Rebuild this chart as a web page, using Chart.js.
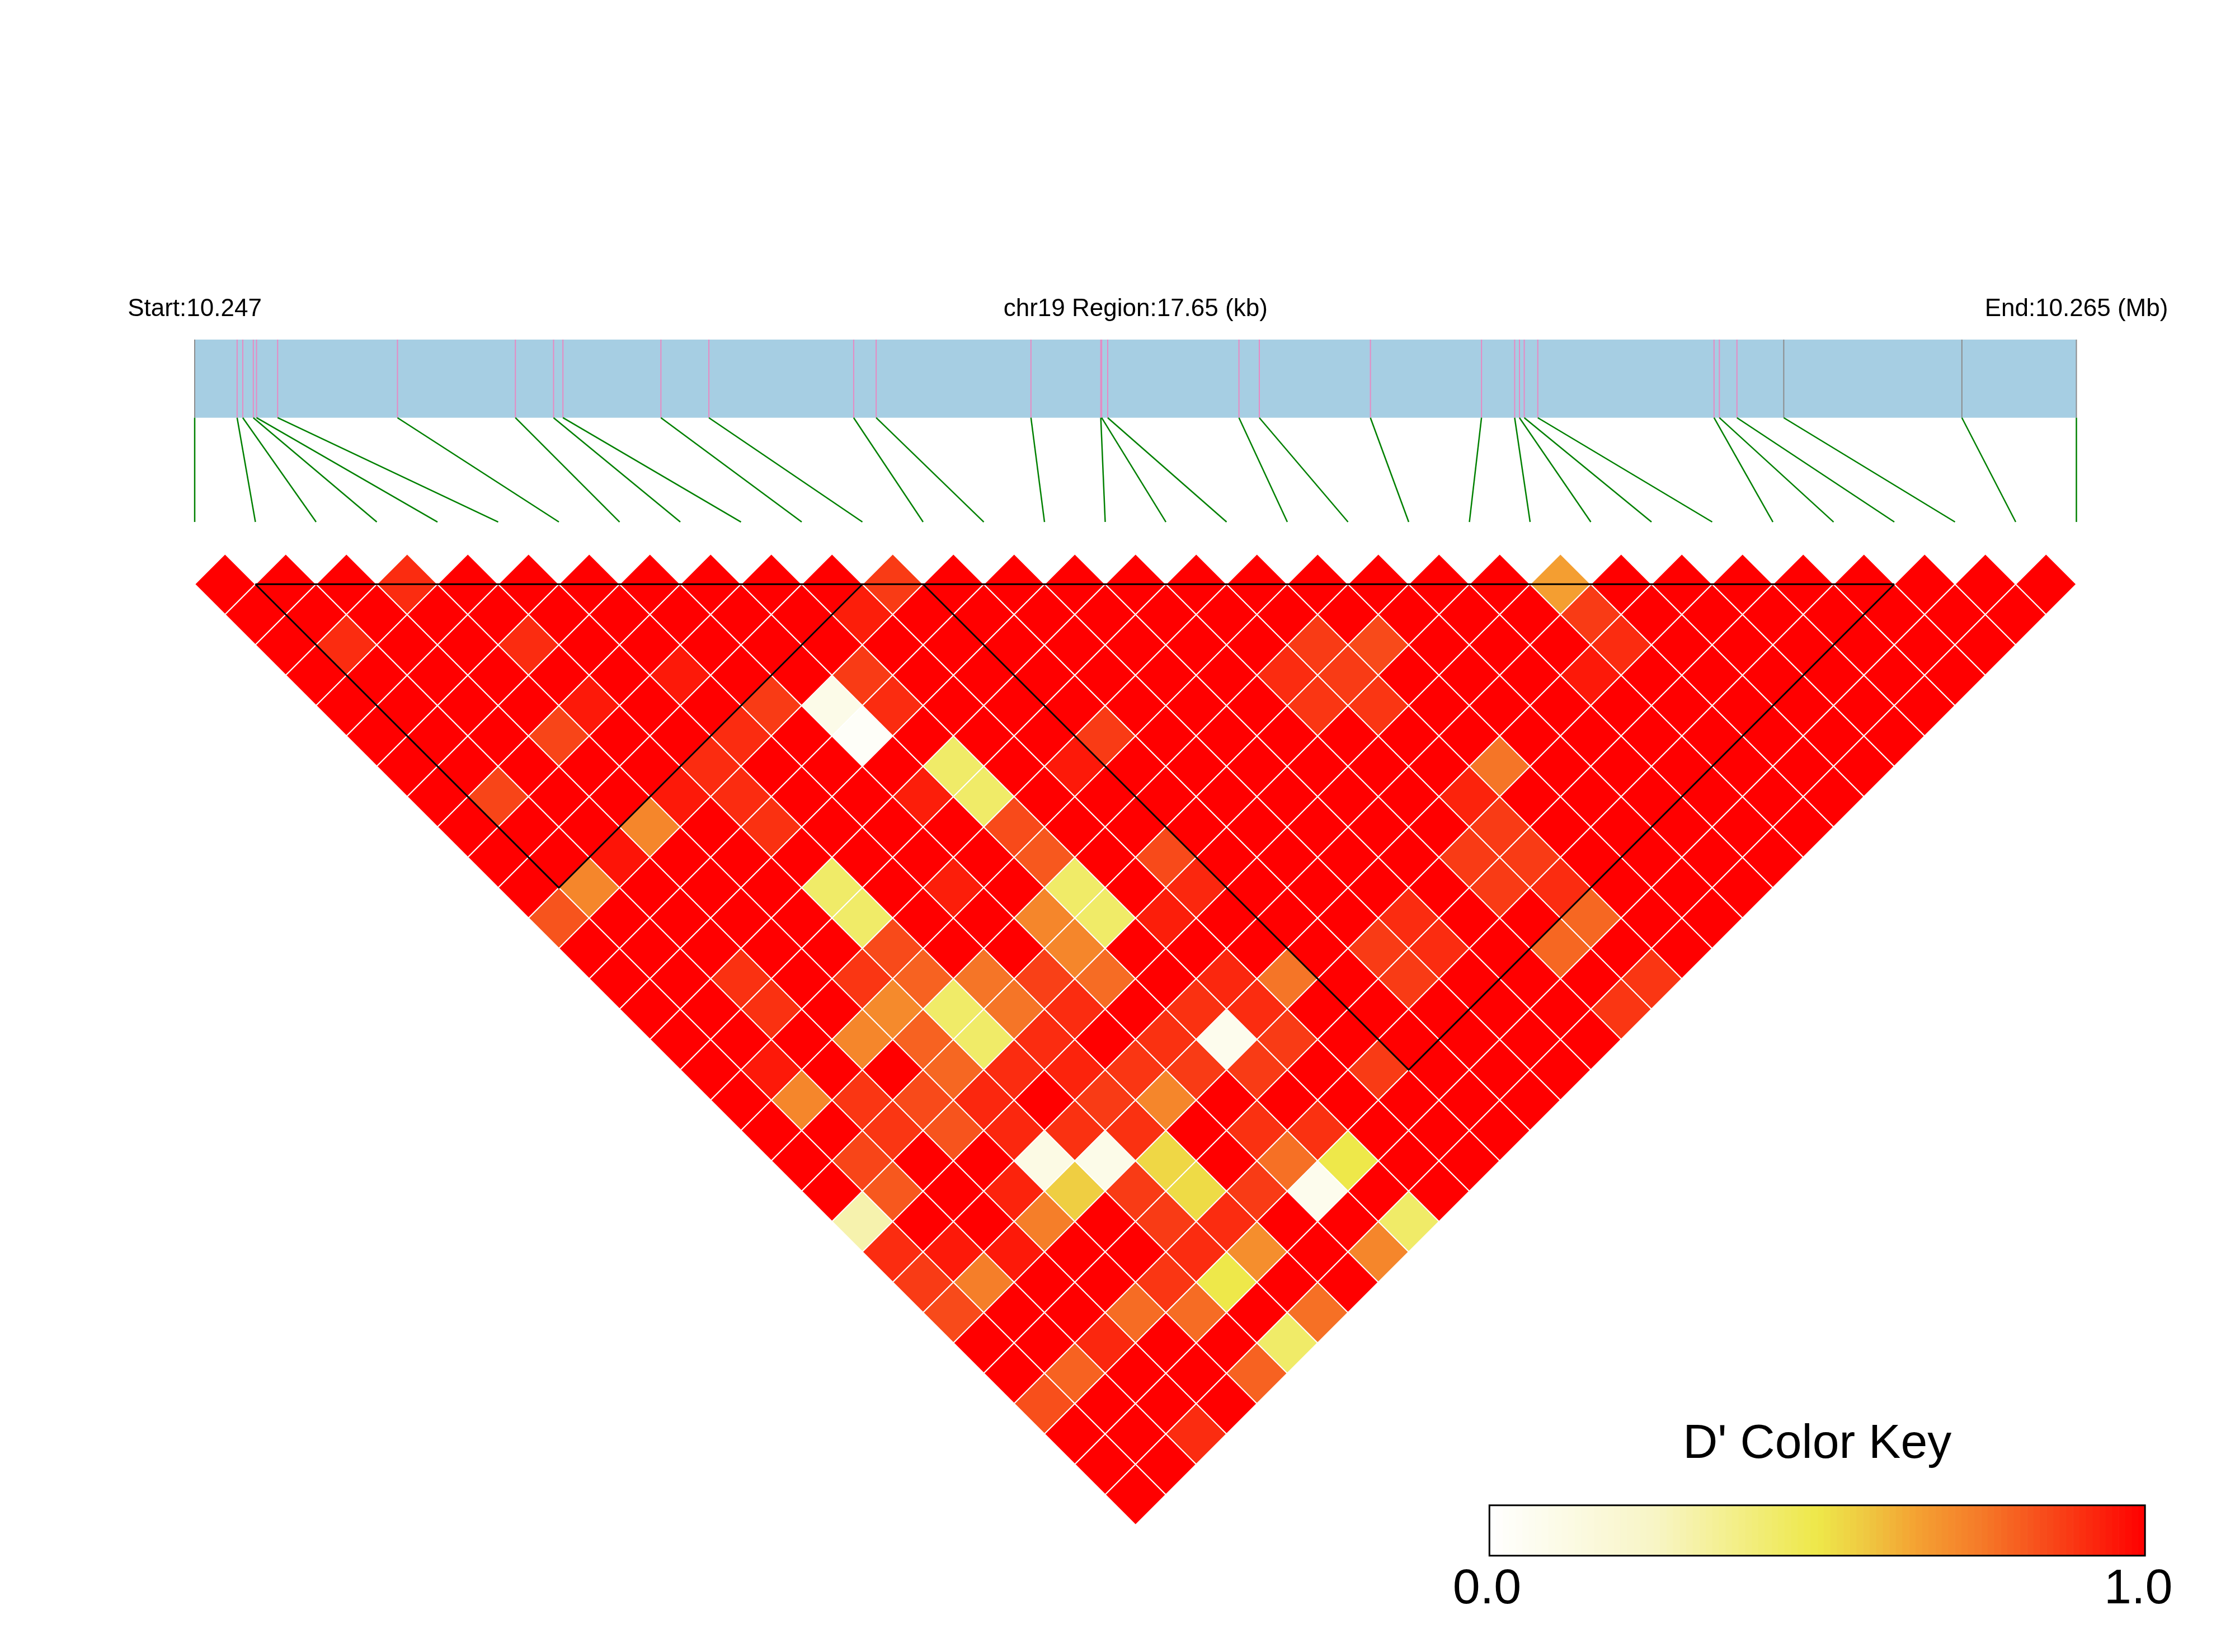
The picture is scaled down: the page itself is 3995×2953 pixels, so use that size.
<!DOCTYPE html>
<html>
<head>
<meta charset="utf-8">
<title>LD heatmap chr19</title>
<script src="https://cdn.jsdelivr.net/npm/chart.js@4.4.1/dist/chart.umd.min.js"></script>
<style>
  html, body { margin: 0; padding: 0; background: #ffffff; }
  #ldChart { display: block; }
</style>
</head>
<body>
<canvas id="ldChart" width="3995" height="2953"></canvas>
<script>
const _ = null;

// region
const chrom = 'chr19';
const startMb = 10.247;
const endMb = 10.265;
const regionKb = 17.65;

// SNP positions, kb from region start
const snpPosKb = [
  0.000, 0.398, 0.451, 0.550, 0.580, 0.778, 1.902, 3.008,
  3.366, 3.454, 4.373, 4.823, 6.181, 6.392, 7.844, 8.499,
  8.507, 8.564, 9.795, 9.986, 11.028, 12.070, 12.381, 12.426,
  12.471, 12.598, 14.251, 14.301, 14.466, 14.905, 16.576, 17.650
];
const greyTicks = [0, 29, 30, 31];

// LD blocks (first SNP, last SNP)
const ldBlocks = [[1, 11], [12, 28]];

// colour key
const keyTicks = ['0.0', '1.0'];
const keyStops = [
  [0.00, '#FFFFFF'],
  [0.25, '#F8F5C6'],
  [0.50, '#EEE84A'],
  [0.58, '#EFC640'],
  [0.65, '#F4A232'],
  [0.75, '#F57A28'],
  [0.85, '#F84A1A'],
  [1.00, '#FF0000']
];

// pairwise D' (row i = first SNP, column j = second SNP)
const dPrime = [
  [_,1,1,1,1,1,1,1, 1,1,1,1,.83,1,1,1, 1,1,1,1,1,1,.30,.91, .88,.85,1,1,.84,1,1,1],
  [_,_,1,1,.91,1,1,1, 1,.86,1,1,.72,1,1,1, 1,1,.95,.72,1,.86,.82,1, .95,.74,1,1,.80,1,1,1],
  [_,_,_,1,1,1,1,1, 1,1,1,1,.96,1,1,1, .90,.90,1,1,.89,.89,1,1, 1,.95,1,1,.92,1,1,.91],
  [_,_,_,_,.91,1,1,1, 1,.86,1,1,.72,1,1,1, 1,1,1,.72,1,.85,.83,1, .93,.74,1,1,.78,1,1,1],
  [_,_,_,_,_,1,1,.91, 1,.95,1,1,.95,1,1,1, 1,1,.89,.71,.80,.79,.92,.92, .12,.56,1,1,.89,.78,1,.80],
  [_,_,_,_,_,_,1,1, 1,1,1,1,.91,.91,.90,1, .44,.44,.85,.80,.44,.44,.91,1, .90,.10,.88,.88,.91,.50,1,.44],
  [_,_,_,_,_,_,_,1, 1,1,.95,1,.91,1,1,1, 1,1,1,1,.76,.76,.91,.93, .88,.90,.54,.53,.91,.70,1,.77],
  [_,_,_,_,_,_,_,_, 1,1,1,1,.88,1,1,1, 1,1,.94,1,1,.87,.91,1, .89,.72,1,1,.88,1,1,1],
  [_,_,_,_,_,_,_,_, _,1,1,1,1,.10,.03,1, .94,1,1,1,.72,.72,.78,1, .90,.88,1,.90,.77,.08,1,.72],
  [_,_,_,_,_,_,_,_, _,_,1,1,1,.88,.91,1, .44,.44,.85,.82,.44,.44,1,1, .90,.08,.88,1,.90,.50,1,.44],
  [_,_,_,_,_,_,_,_, _,_,_,1,.94,1,1,1, 1,1,1,1,1,1,.94,1, .92,.91,.88,1,1,1,1,1],
  [_,_,_,_,_,_,_,_, _,_,_,_,.88,1,1,1, 1,1,.95,1,1,.85,.92,1, 1,.76,1,1,.88,1,1,1],
  [_,_,_,_,_,_,_,_, _,_,_,_,_,1,1,1, 1,1,.88,1,1,1,1,1, 1,1,1,1,1,1,1,1],
  [_,_,_,_,_,_,_,_, _,_,_,_,_,_,1,1, 1,1,1,1,1,1,1,1, 1,1,.88,.88,1,1,1,1],
  [_,_,_,_,_,_,_,_, _,_,_,_,_,_,_,1, 1,1,1,1,1,1,1,1, 1,1,.91,.91,1,1,1,1],
  [_,_,_,_,_,_,_,_, _,_,_,_,_,_,_,_, 1,1,1,1,1,1,1,1, 1,1,1,1,1,1,1,1],
  [_,_,_,_,_,_,_,_, _,_,_,_,_,_,_,_, _,1,1,1,.91,.89,1,1, 1,1,.88,.88,1,.79,1,.89],
  [_,_,_,_,_,_,_,_, _,_,_,_,_,_,_,_, _,_,1,1,.88,.88,.89,1, 1,.93,.88,.88,.91,.79,1,.89],
  [_,_,_,_,_,_,_,_, _,_,_,_,_,_,_,_, _,_,_,1,1,.85,1,1, 1,.76,1,1,1,1,1,1],
  [_,_,_,_,_,_,_,_, _,_,_,_,_,_,_,_, _,_,_,_,1,1,1,1, 1,1,1,1,1,1,1,1],
  [_,_,_,_,_,_,_,_, _,_,_,_,_,_,_,_, _,_,_,_,_,1,1,1, 1,1,1,1,1,1,1,1],
  [_,_,_,_,_,_,_,_, _,_,_,_,_,_,_,_, _,_,_,_,_,_,1,1, 1,.95,1,1,1,1,1,1],
  [_,_,_,_,_,_,_,_, _,_,_,_,_,_,_,_, _,_,_,_,_,_,_,.66, .88,.91,1,1,1,1,1,1],
  [_,_,_,_,_,_,_,_, _,_,_,_,_,_,_,_, _,_,_,_,_,_,_,_, 1,1,1,1,1,1,1,1],
  [_,_,_,_,_,_,_,_, _,_,_,_,_,_,_,_, _,_,_,_,_,_,_,_, _,1,1,1,1,1,1,1],
  [_,_,_,_,_,_,_,_, _,_,_,_,_,_,_,_, _,_,_,_,_,_,_,_, _,_,1,1,1,1,1,1],
  [_,_,_,_,_,_,_,_, _,_,_,_,_,_,_,_, _,_,_,_,_,_,_,_, _,_,_,1,1,1,1,1],
  [_,_,_,_,_,_,_,_, _,_,_,_,_,_,_,_, _,_,_,_,_,_,_,_, _,_,_,_,1,1,1,1],
  [_,_,_,_,_,_,_,_, _,_,_,_,_,_,_,_, _,_,_,_,_,_,_,_, _,_,_,_,_,1,1,1],
  [_,_,_,_,_,_,_,_, _,_,_,_,_,_,_,_, _,_,_,_,_,_,_,_, _,_,_,_,_,_,1,1],
  [_,_,_,_,_,_,_,_, _,_,_,_,_,_,_,_, _,_,_,_,_,_,_,_, _,_,_,_,_,_,_,1]
];

// placement of the extras, in scale units (x = SNP index, y = row)
const lay = {
  labelY: -7.83, barTop: -7.06, barBottom: -4.485, fanEnd: -1.05,
  keyX0: 21.33, keyX1: 32.13, keyTop: 31.35, keyBottom: 33.01,
  keyTitleY: 29.79, keyLabelY: 34.58, keyLabelX: [21.29, 32.02]
};

const fontFamily = '"Liberation Sans", Arial, Helvetica, sans-serif';

function hexRgb(h) {
  return [1, 3, 5].map(k => parseInt(h.slice(k, k + 2), 16));
}

function ldColor(v) {
  for (let k = 1; k < keyStops.length; k++) {
    if (v <= keyStops[k][0]) {
      const [v0, c0] = keyStops[k - 1];
      const [v1, c1] = keyStops[k];
      const t = (v - v0) / (v1 - v0);
      const a = hexRgb(c0), b = hexRgb(c1);
      const c = a.map((x, n) => Math.round(x + (b[n] - x) * t));
      return `rgb(${c[0]},${c[1]},${c[2]})`;
    }
  }
  return keyStops[keyStops.length - 1][1];
}

// one diamond per SNP pair
const cells = [];
dPrime.forEach((row, i) => {
  row.forEach((v, j) => {
    if (v !== null) cells.push({ x: (i + j) / 2, y: j - i, v: v });
  });
});

const nSnp = snpPosKb.length;

const ldDecor = {
  id: 'ldDecor',
  beforeDatasetsDraw(chart) {
    const ctx = chart.ctx;
    const xs = chart.scales.x, ys = chart.scales.y;
    const px = u => xs.getPixelForValue(u);
    const py = v => ys.getPixelForValue(v);
    const kbToUnit = kb => kb / regionKb * (nSnp - 1);

    ctx.save();
    // top labels
    ctx.fillStyle = '#000';
    ctx.font = `44px ${fontFamily}`;
    ctx.textAlign = 'center';
    ctx.textBaseline = 'alphabetic';
    ctx.fillText(`Start:${startMb.toFixed(3)}`, px(0), py(lay.labelY));
    ctx.fillText(`${chrom} Region:${regionKb.toFixed(2)} (kb)`, px((nSnp - 1) / 2), py(lay.labelY));
    ctx.fillText(`End:${endMb.toFixed(3)} (Mb)`, px(nSnp - 1), py(lay.labelY));

    // region bar
    ctx.fillStyle = '#A6CEE3';
    ctx.fillRect(px(0), py(lay.barTop), px(nSnp - 1) - px(0), py(lay.barBottom) - py(lay.barTop));

    snpPosKb.forEach((kb, k) => {
      const xTop = px(kbToUnit(kb));
      ctx.strokeStyle = greyTicks.includes(k) ? '#8C8C8C' : '#E78AC3';
      ctx.lineWidth = 2;
      ctx.beginPath();
      ctx.moveTo(xTop, py(lay.barTop));
      ctx.lineTo(xTop, py(lay.barBottom));
      ctx.stroke();

      ctx.strokeStyle = '#008000';
      ctx.lineWidth = 2.5;
      ctx.beginPath();
      ctx.moveTo(xTop, py(lay.barBottom));
      ctx.lineTo(px(k), py(lay.fanEnd));
      ctx.stroke();
    });
    ctx.restore();
  },
  afterDatasetsDraw(chart) {
    const ctx = chart.ctx;
    const xs = chart.scales.x, ys = chart.scales.y;
    const px = u => xs.getPixelForValue(u);
    const py = v => ys.getPixelForValue(v);

    ctx.save();
    // block outlines
    ctx.strokeStyle = '#000';
    ctx.lineWidth = 3;
    const first = ldBlocks[0][0], last = ldBlocks[ldBlocks.length - 1][1];
    ctx.beginPath();
    ctx.moveTo(px(first), py(1));
    ctx.lineTo(px(last), py(1));
    ctx.stroke();
    ldBlocks.forEach(([a, b]) => {
      ctx.beginPath();
      ctx.moveTo(px(a), py(1));
      ctx.lineTo(px((a + b) / 2), py(b - a + 1));
      ctx.lineTo(px(b), py(1));
      ctx.stroke();
    });

    // colour key
    const x0 = px(lay.keyX0), x1 = px(lay.keyX1);
    const y0 = py(lay.keyTop), y1 = py(lay.keyBottom);
    const nBands = 100;
    const bw = (x1 - x0) / nBands;
    for (let b = 0; b < nBands; b++) {
      ctx.fillStyle = ldColor((b + 0.5) / nBands);
      ctx.fillRect(x0 + b * bw, y0, bw + 0.6, y1 - y0);
    }
    ctx.strokeStyle = '#000';
    ctx.lineWidth = 3;
    ctx.strokeRect(x0, y0, x1 - x0, y1 - y0);

    ctx.fillStyle = '#000';
    ctx.textAlign = 'center';
    ctx.textBaseline = 'alphabetic';
    ctx.font = `86px ${fontFamily}`;
    ctx.fillText("D' Color Key", (x0 + x1) / 2, py(lay.keyTitleY));
    ctx.font = `88px ${fontFamily}`;
    keyTicks.forEach((t, k) => ctx.fillText(t, px(lay.keyLabelX[k]), py(lay.keyLabelY)));
    ctx.restore();
  }
};

const cellRadius = c => {
  const xs = c.chart.scales.x;
  return xs ? xs.getPixelForValue(0.5) - xs.getPixelForValue(0) : 0;
};

new Chart(document.getElementById('ldChart'), {
  type: 'scatter',
  data: {
    datasets: [{
      label: "D'",
      data: cells,
      pointStyle: 'rectRot',
      pointRadius: cellRadius,
      pointHoverRadius: cellRadius,
      pointBackgroundColor: c => (c.raw ? ldColor(c.raw.v) : '#FF0000'),
      pointBorderColor: '#FFFFFF',
      pointBorderWidth: 2
    }]
  },
  options: {
    responsive: false,
    animation: false,
    events: [],
    layout: { padding: 0 },
    plugins: {
      legend: { display: false },
      tooltip: { enabled: false }
    },
    scales: {
      x: { type: 'linear', display: false, min: -3.2074, max: 33.6129 },
      y: { type: 'linear', display: false, reverse: true, min: -18.249, max: 36.184 }
    }
  },
  plugins: [ldDecor]
});
</script>
</body>
</html>
